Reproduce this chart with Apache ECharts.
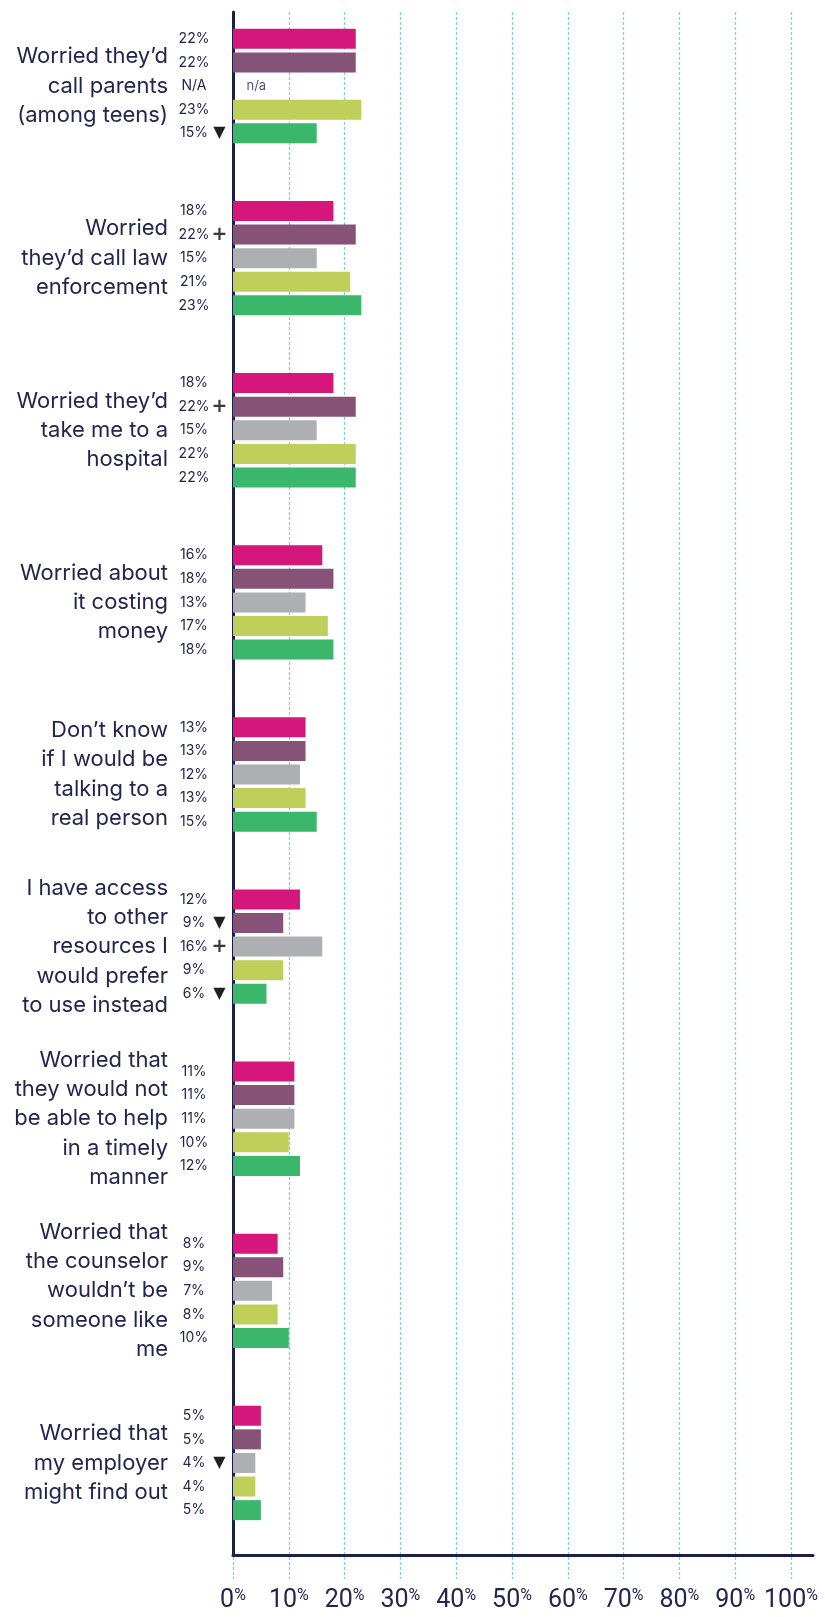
<!DOCTYPE html>
<html>
<head>
<meta charset="utf-8">
<script src="https://cdn.jsdelivr.net/npm/echarts@6/dist/echarts.min.js"></script>
<style>
  html, body { margin: 0; padding: 0; background: #ffffff; }
  #chart { width: 825px; height: 1617px; }
</style>
</head>
<body>
<div id="chart"></div>
<script>
// Reasons given for not reaching out, shown as percentages per segment
const categories = [
  'Worried they\u2019d\ncall parents\n(among teens)',
  'Worried\nthey\u2019d call law\nenforcement',
  'Worried they\u2019d\ntake me to a\nhospital',
  'Worried about\nit costing\nmoney',
  'Don\u2019t know\nif I would be\ntalking to a\nreal person',
  'I have access\nto other\nresources I\nwould prefer\nto use instead',
  'Worried that\nthey would not\nbe able to help\nin a timely\nmanner',
  'Worried that\nthe counselor\nwouldn\u2019t be\nsomeone like\nme',
  'Worried that\nmy employer\nmight find out'
];

const segment1 = [22, 18, 18, 16, 13, 12, 11, 8, 5];
const segment2 = [22, 22, 22, 18, 13, 9, 11, 9, 5];
const segment3 = [null, 15, 15, 13, 12, 16, 11, 7, 4];   // null = not asked
const segment4 = [23, 21, 22, 17, 13, 9, 10, 8, 4];
const segment5 = [15, 23, 22, 18, 15, 6, 12, 10, 5];

// Significance markers: 'up' = significantly higher, 'down' = significantly lower
const flags1 = ['', '', '', '', '', '', '', '', ''];
const flags2 = ['', 'up', 'up', '', '', 'down', '', '', ''];
const flags3 = ['', '', '', '', '', 'up', '', '', 'down'];
const flags4 = ['', '', '', '', '', '', '', '', ''];
const flags5 = ['down', '', '', '', '', 'down', '', '', ''];

const xTicks = [0, 10, 20, 30, 40, 50, 60, 70, 80, 90, 100];

const NAVY = '#22264f';
const AXIS = '#1c1f48';
const GRID = '#7fd2e6';

function barSeries(name, values, flags, color) {
  return {
    type: 'bar',
    name: name,
    xAxisIndex: 0,
    yAxisIndex: 0,
    barWidth: 20,
    barGap: '18%',
    itemStyle: { color: color },
    data: values.map((v, i) => v == null
      ? { value: 0, missing: true, flag: flags[i] }
      : { value: v, flag: flags[i] }),
    label: {
      show: true,
      position: 'left',
      distance: 6,
      formatter: p => {
        const txt = p.data.missing ? 'N/A' : p.value + '%';
        const mark = p.data.flag === 'down' ? '{dn|\u25BC}'
                   : p.data.flag === 'up' ? '{up|+}'
                   : '{sp| }';
        return '{v|' + txt + '}' + mark;
      },
      rich: {
        v: { width: 36, align: 'center', fontSize: 14, color: NAVY, fontFamily: 'Inter' },
        dn: { width: 15, align: 'center', fontSize: 16, color: '#231f20', fontFamily: 'DejaVu Sans' },
        up: { width: 15, align: 'center', fontSize: 19, fontWeight: 'bold', color: '#3a3a3a', fontFamily: 'DejaVu Sans' },
        sp: { width: 15, align: 'center', fontSize: 13 }
      }
    }
  };
}

const naPoints = segment3
  .map((v, i) => v == null ? [0, categories[i]] : null)
  .filter(Boolean);

const option = {
  animation: false,
  backgroundColor: '#ffffff',
  grid: [
    // bars and category labels
    { left: 233, width: 558, top: 0, height: 1549 },
    // dashed guides and percentage ticks
    { left: 233, width: 558, top: 12, bottom: 38 },
    // solid axis lines
    { left: 233, width: 580, top: 12, height: 1543 }
  ],
  xAxis: [
    {
      gridIndex: 0, type: 'value', min: 0, max: 100,
      axisLine: { show: false }, axisTick: { show: false },
      axisLabel: { show: false }, splitLine: { show: false }
    },
    {
      gridIndex: 1, type: 'value', min: xTicks[0], max: xTicks[xTicks.length - 1], interval: 10,
      axisLine: { show: false }, axisTick: { show: false },
      splitLine: { show: true, lineStyle: { color: GRID, width: 1.3, type: [3, 2] } },
      axisLabel: {
        margin: 9,
        formatter: v => '{n|' + v + '}{p|%}',
        rich: {
          n: { fontSize: 25, lineHeight: 28, color: NAVY, fontFamily: 'Roboto', verticalAlign: 'top' },
          p: { fontSize: 16, lineHeight: 20, color: NAVY, fontFamily: 'Roboto', verticalAlign: 'top' }
        }
      }
    },
    {
      gridIndex: 2, type: 'value', min: 0, max: 1, position: 'bottom',
      axisLine: { show: true, onZero: false, lineStyle: { color: AXIS, width: 3 } },
      axisTick: { show: false }, axisLabel: { show: false }, splitLine: { show: false }
    }
  ],
  yAxis: [
    {
      gridIndex: 0, type: 'category', data: categories, inverse: true,
      axisLine: { show: false }, axisTick: { show: false },
      axisLabel: {
        margin: 65, align: 'right', fontSize: 22, lineHeight: 29.3,
        color: NAVY, fontFamily: 'Inter'
      }
    },
    {
      gridIndex: 1, type: 'value', show: false
    },
    {
      gridIndex: 2, type: 'value', min: 0, max: 1, position: 'left',
      axisLine: { show: true, onZero: false, lineStyle: { color: AXIS, width: 3 } },
      axisTick: { show: false }, axisLabel: { show: false }, splitLine: { show: false }
    }
  ],
  series: [
    barSeries('Segment 1', segment1, flags1, '#d5177b'),
    barSeries('Segment 2', segment2, flags2, '#875277'),
    barSeries('Segment 3', segment3, flags3, '#aeafb2'),
    barSeries('Segment 4', segment4, flags4, '#bfcf59'),
    barSeries('Segment 5', segment5, flags5, '#3bb76b'),
    {
      type: 'scatter',
      xAxisIndex: 0,
      yAxisIndex: 0,
      symbolSize: 1,
      itemStyle: { color: 'rgba(0,0,0,0)' },
      data: naPoints,
      label: {
        show: true, position: 'right', distance: 13,
        formatter: 'n/a', fontSize: 13, color: NAVY, fontFamily: 'Inter'
      },
      z: 5
    }
  ]
};

const chart = echarts.init(document.getElementById('chart'), null, { renderer: 'canvas' });
chart.setOption(option);
</script>
</body>
</html>
